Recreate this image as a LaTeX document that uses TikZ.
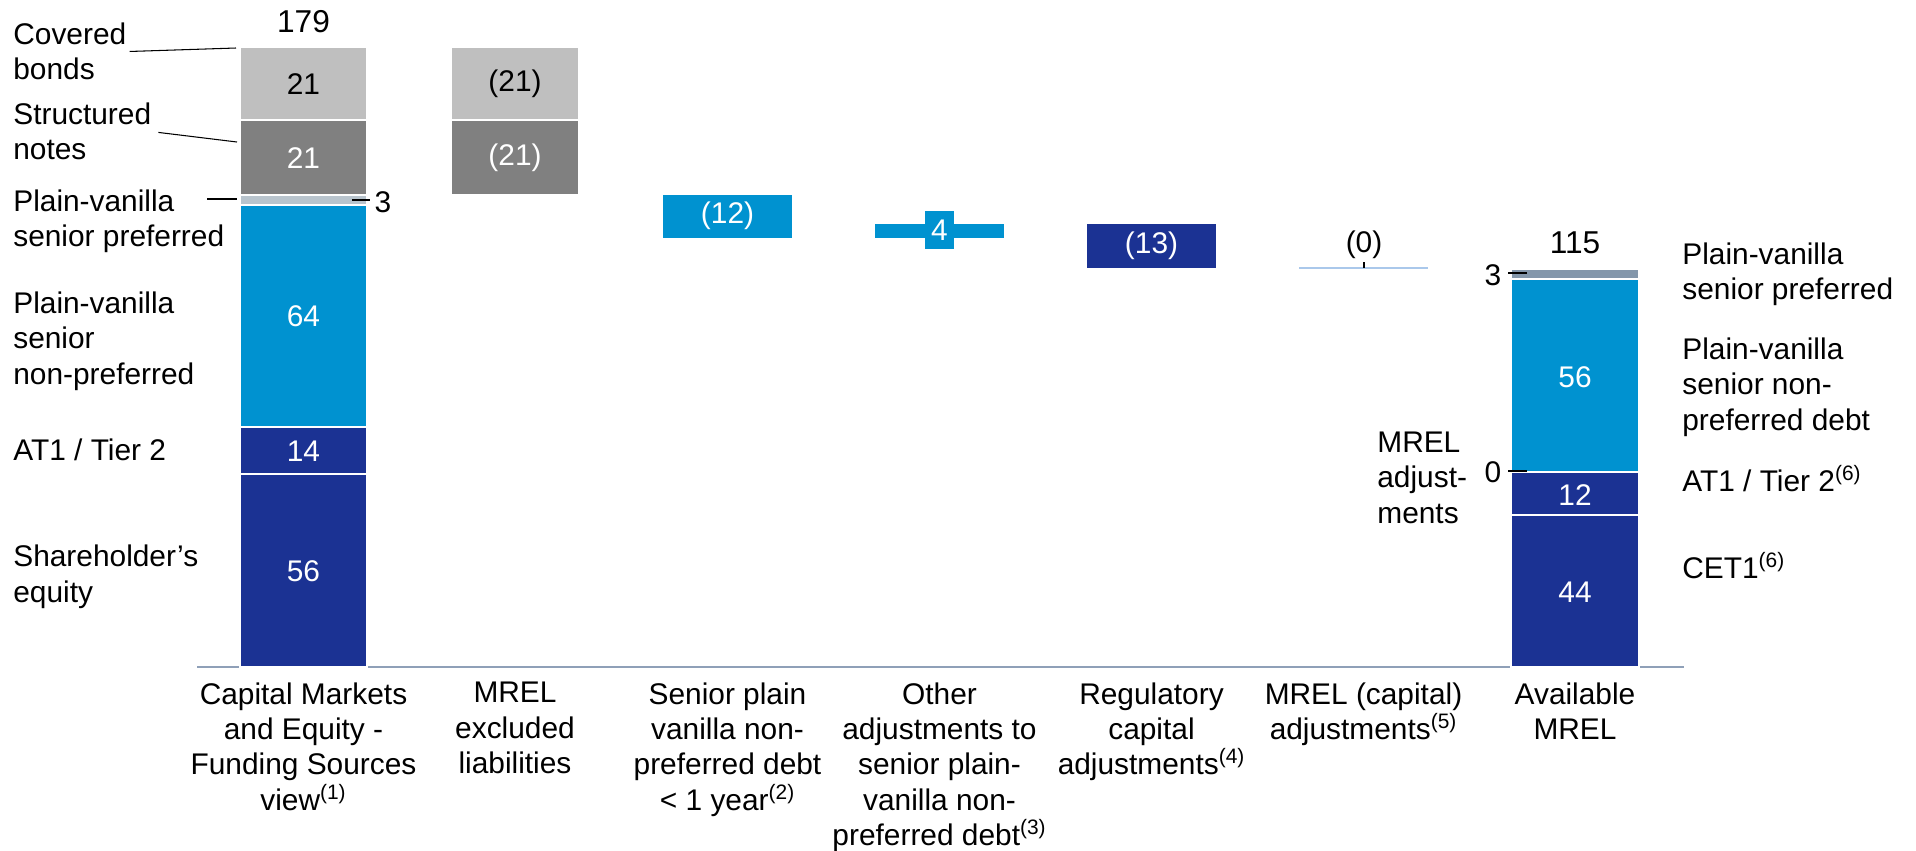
\documentclass[tikz,border=0pt]{standalone}
\usepackage{fontspec}
\setmainfont{Liberation Sans}

\definecolor{cbGray}{RGB}{191,191,191}
\definecolor{snGray}{RGB}{128,128,128}
\definecolor{spPale}{RGB}{184,196,205}
\definecolor{spSlate}{RGB}{132,151,171}
\definecolor{midBlue}{RGB}{0,146,208}
\definecolor{navy}{RGB}{27,50,147}
\definecolor{axisGray}{RGB}{143,160,184}
\definecolor{thinBlue}{RGB}{170,200,235}

\begin{document}
\begin{tikzpicture}[x=0.02cm, y=-0.02cm,
        font=\fontsize{17}{20.2}\selectfont, inner sep=0pt,
        seg/.style={draw=white, line width=0.6pt},
        val/.style={text=white},
        lbl/.style={anchor=north west, align=left},
        cat/.style={anchor=north, align=center},
        lead/.style={line width=0.6pt}]

            \useasboundingbox (0,0) rectangle (1916,850);

            % Achse:
            \coordinate (axL) at (197,667);
            \coordinate (axR) at (1684,667);
            \draw[axisGray, line width=1.1pt] (axL) -- (axR);

            % Capital Markets und Equity:
            \path[seg, fill=cbGray] (240,47) rectangle (367,120);
            \path[seg, fill=snGray] (240,120) rectangle (367,195);
            \path[seg, fill=spPale] (240,195) rectangle (367,205);
            \path[seg, fill=midBlue] (240,205) rectangle (367,427);
            \path[seg, fill=navy] (240,427) rectangle (367,474);
            \path[seg, fill=navy] (240,474) rectangle (367,667);
            \node (cmCb) at (303.5,84) {21};
            \node[val] (cmSn) at (303.5,158) {21};
            \node[val] (cmSnp) at (303.5,316) {64};
            \node[val] (cmAt) at (303.5,451) {14};
            \node[val] (cmSe) at (303.5,571) {56};
            \node[font=\fontsize{18}{21}\selectfont] (totCm) at (303.5,22) {179};
            \node (lthree) at (383,202) {3};
            \coordinate (lt3) at (352,200);
            \draw[lead, shorten >=0.09cm] (lt3) -- (lt3 -| lthree.west);

            % MREL excluded:
            \path[seg, fill=cbGray] (451,47) rectangle (579,120);
            \path[seg, fill=snGray] (451,120) rectangle (579,195);
            \node (exCb) at (515,84) {(21)};
            \node[val] (exSn) at (515,158) {(21)};

            % Abzuege und Zuschlaege:
            \path[fill=midBlue] (663,195) rectangle (792,238);
            \node[val] (snpShort) at (727.5,216) {(12)};
            \path[fill=midBlue] (875,224) rectangle (1004,238);
            \node[val, fill=midBlue, minimum width=0.58cm, minimum height=0.76cm]
                (othAdj) at (939.5,230) {4};
            \path[fill=navy] (1087,224) rectangle (1216,268);
            \node[val] (regAdj) at (1151.5,246) {(13)};
            \coordinate (capL) at (1299,268);
            \coordinate (capR) at (1428,268);
            \draw[thinBlue, line width=0.7pt] (capL) -- (capR);
            \node (capAdj) at (1364,245) {(0)};
            \coordinate (capTick) at (1364,262);
            \coordinate (capBase) at (1364,268);
            \draw[lead] (capTick) -- (capBase);

            % Available MREL:
            \path[seg, fill=spSlate] (1511,269) rectangle (1639,279);
            \path[seg, fill=midBlue] (1511,279) rectangle (1639,472);
            \path[seg, fill=navy] (1511,472) rectangle (1639,515);
            \path[seg, fill=navy] (1511,515) rectangle (1639,667);
            \node[val] (avSnp) at (1575,377) {56};
            \node[val] (avAt) at (1575,495) {12};
            \node[val] (avCet) at (1575,592) {44};
            \node[font=\fontsize{18}{21}\selectfont] (totAv) at (1575,243) {115};
            \node (rthree) at (1493,275) {3};
            \coordinate (rt3) at (1527,273);
            \draw[lead, shorten >=0.13cm] (rt3) -- (rt3 -| rthree.east);
            \node (rzero) at (1493,472) {0};
            \coordinate (rt0) at (1527,471);
            \draw[lead, shorten >=0.13cm] (rt0) -- (rt0 -| rzero.east);

            % linke Beschriftung:
            \node[lbl] (lCov) at (13,22.5) {Covered\\bonds};
            \node[lbl] (lStr) at (13,102.5) {Structured\\notes};
            \node[lbl] (lPvs) at (13,189.5) {Plain-vanilla\\senior preferred};
            \node[lbl] (lPvn) at (13,291.5) {Plain-vanilla\\senior\\non-preferred};
            \node[lbl] (lAt) at (13,438.5) {AT1 / Tier 2};
            \node[lbl] (lSe) at (13,544.5) {Shareholder’s\\equity};
            \coordinate (covBar) at (236,48);
            \coordinate (strBar) at (237,142);
            \coordinate (pvsStart) at (207,199);
            \coordinate (pvsBar) at (237,199);
            \draw[lead, shorten <=0.06cm] (lCov.east) -- (covBar);
            \draw[lead, shorten <=0.14cm] (lStr.east) -- (strBar);
            \draw[lead] (pvsStart) -- (pvsBar);

            % rechte Beschriftung:
            \node[lbl] (rPvs) at (1682,242.5) {Plain-vanilla\\senior preferred};
            \node[lbl] (rPvn) at (1682,337.5) {Plain-vanilla\\senior non-\\preferred debt};
            \node[lbl] (rAt) at (1682,464.5) {AT1 / Tier 2\textsuperscript{(6)}};
            \node[lbl] (rCet) at (1682,551.5) {CET1\textsuperscript{(6)}};
            \node[lbl] (mrelAdj) at (1377,431.5) {MREL\\adjust-\\ments};

            % Kategorien:
            \node[cat] (cat1) at (303.5,682) {Capital Markets\\and Equity -\\Funding Sources\\view\textsuperscript{(1)}};
            \node[cat] (cat2) at (515,682) {MREL\\excluded\\liabilities};
            \node[cat] (cat3) at (727.5,682) {Senior plain\\vanilla non-\\preferred debt\\< 1 year\textsuperscript{(2)}};
            \node[cat] (cat4) at (939.5,682) {Other\\adjustments to\\senior plain-\\vanilla non-\\preferred debt\textsuperscript{(3)}};
            \node[cat] (cat5) at (1151.5,682) {Regulatory\\capital\\adjustments\textsuperscript{(4)}};
            \node[cat] (cat6) at (1363.5,682) {MREL (capital)\\adjustments\textsuperscript{(5)}};
            \node[cat] (cat7) at (1575,682) {Available\\MREL};

\end{tikzpicture}
\end{document}
